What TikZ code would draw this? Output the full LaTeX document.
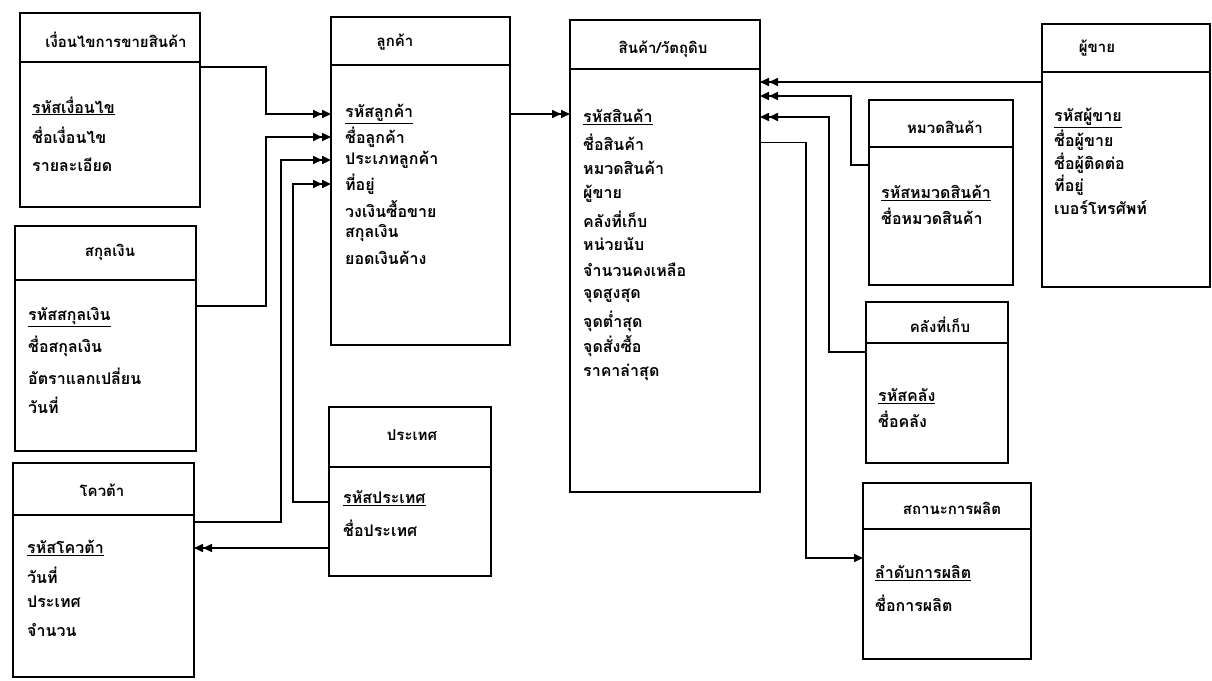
\documentclass[tikz,border=0pt]{standalone}
\usepackage{fontspec}
\newfontfamily\thai[Script=Thai]{Loma}
\usetikzlibrary{arrows.meta}

\begin{document}
\begin{tikzpicture}[x=1pt,y=-1pt,
  box/.style={draw, line width=1.6pt, anchor=north west, inner sep=0pt, outer sep=0pt},
  rule/.style={line width=1.6pt},
  ttl/.style={font=\thai\bfseries\fontsize{15}{17}\selectfont, inner sep=0pt},
  attr/.style={font=\thai\bfseries\fontsize{16}{18}\selectfont, anchor=west, inner sep=0pt},
  link/.style={line width=1.6pt},
  dbl/.style={link, -{Triangle[length=9pt,width=8pt]Triangle[length=9pt,width=8pt]}},
  sgl/.style={link, -{Triangle[length=9pt,width=8pt]}},
]
\useasboundingbox (0,0) rectangle (1212,680);

% ---------- เงื่อนไขการขายสินค้า ----------
\node[box, minimum width=180pt, minimum height=194pt] (cond) at (20,13) {};
\draw[rule] (cond.west |- 0,62) -- (cond.east |- 0,62);
\node[ttl] (condT) at (116,40) {เงื่อนไขการขายสินค้า};
\node[attr] (condA1) at (32,106) {\underline{รหัสเงื่อนไข}};
\node[attr] (condA2) at (32,135) {ชื่อเงื่อนไข};
\node[attr] (condA3) at (32,165) {รายละเอียด};

% ---------- สกุลเงิน ----------
\node[box, minimum width=181pt, minimum height=225pt] (curr) at (15,226) {};
\draw[rule] (curr.west |- 0,280) -- (curr.east |- 0,280);
\node[ttl] (currT) at (110,252) {สกุลเงิน};
\node[attr] (currA1) at (28,317) {\underline{รหัสสกุลเงิน}};
\node[attr] (currA2) at (28,346) {ชื่อสกุลเงิน};
\node[attr] (currA3) at (28,376) {อัตราแลกเปลี่ยน};
\node[attr] (currA4) at (28,405) {วันที่};

% ---------- โควต้า ----------
\node[box, minimum width=181pt, minimum height=214pt] (quota) at (13,463) {};
\draw[rule] (quota.west |- 0,515) -- (quota.east |- 0,515);
\node[ttl] (quotaT) at (102,490) {โควต้า};
\node[attr] (quotaA1) at (27,548) {\underline{รหัสโควต้า}};
\node[attr] (quotaA2) at (27,575) {วันที่};
\node[attr] (quotaA3) at (27,602) {ประเทศ};
\node[attr] (quotaA4) at (27,630) {จำนวน};

% ---------- ลูกค้า ----------
\node[box, minimum width=179pt, minimum height=328pt] (cust) at (331,17) {};
\draw[rule] (cust.west |- 0,65) -- (cust.east |- 0,65);
\node[ttl] (custT) at (395,42) {ลูกค้า};
\node[attr] (custA1) at (345,114) {\underline{รหัสลูกค้า}};
\node[attr] (custA2) at (345,137) {ชื่อลูกค้า};
\node[attr] (custA3) at (345,160) {ประเภทลูกค้า};
\node[attr] (custA4) at (345,184) {ที่อยู่};
\node[attr] (custA5) at (345,209) {วงเงินซื้อขาย};
\node[attr] (custA6) at (345,233) {สกุลเงิน};
\node[attr] (custA7) at (345,258) {ยอดเงินค้าง};

% ---------- ประเทศ ----------
\node[box, minimum width=162pt, minimum height=169pt] (country) at (329,407) {};
\draw[rule] (country.west |- 0,467) -- (country.east |- 0,467);
\node[ttl] (countryT) at (412,435) {ประเทศ};
\node[attr] (countryA1) at (343,498) {\underline{รหัสประเทศ}};
\node[attr] (countryA2) at (343,528) {ชื่อประเทศ};

% ---------- สินค้า/วัตถุดิบ ----------
\node[box, minimum width=190pt, minimum height=472pt] (prod) at (570,20) {};
\draw[rule] (prod.west |- 0,69) -- (prod.east |- 0,69);
\node[ttl] (prodT) at (663,49) {สินค้า/วัตถุดิบ};
\node[attr] (prodA1) at (583,117) {\underline{รหัสสินค้า}};
\node[attr] (prodA2) at (583,142.5) {ชื่อสินค้า};
\node[attr] (prodA3) at (583,168) {หมวดสินค้า};
\node[attr] (prodA4) at (583,193.5) {ผู้ขาย};
\node[attr] (prodA5) at (583,219) {คลังที่เก็บ};
\node[attr] (prodA6) at (583,244.5) {หน่วยนับ};
\node[attr] (prodA7) at (583,270) {จำนวนคงเหลือ};
\node[attr] (prodA8) at (583,295.5) {จุดสูงสุด};
\node[attr] (prodA9) at (583,321) {จุดต่ำสุด};
\node[attr] (prodA10) at (583,346.5) {จุดสั่งซื้อ};
\node[attr] (prodA11) at (583,372) {ราคาล่าสุด};

% ---------- หมวดสินค้า ----------
\node[box, minimum width=144pt, minimum height=185pt] (cat) at (869,100) {};
\draw[rule] (cat.west |- 0,147) -- (cat.east |- 0,147);
\node[ttl] (catT) at (945,127) {หมวดสินค้า};
\node[attr] (catA1) at (881,193) {\underline{รหัสหมวดสินค้า}};
\node[attr] (catA2) at (881,216) {ชื่อหมวดสินค้า};

% ---------- ผู้ขาย ----------
\node[box, minimum width=168pt, minimum height=263pt] (vendor) at (1042,24) {};
\draw[rule] (vendor.west |- 0,72) -- (vendor.east |- 0,72);
\node[ttl] (vendorT) at (1097,48) {ผู้ขาย};
\node[attr] (vendorA1) at (1054,118) {\underline{รหัสผู้ขาย}};
\node[attr] (vendorA2) at (1054,140) {ชื่อผู้ขาย};
\node[attr] (vendorA3) at (1054,163) {ชื่อผู้ติดต่อ};
\node[attr] (vendorA4) at (1054,185) {ที่อยู่};
\node[attr] (vendorA5) at (1054,208) {เบอร์โทรศัพท์};

% ---------- คลังที่เก็บ ----------
\node[box, minimum width=142pt, minimum height=161pt] (store) at (866,302) {};
\draw[rule] (store.west |- 0,343) -- (store.east |- 0,343);
\node[ttl] (storeT) at (940,325) {คลังที่เก็บ};
\node[attr] (storeA1) at (878,396) {\underline{รหัสคลัง}};
\node[attr] (storeA2) at (878,419) {ชื่อคลัง};

% ---------- สถานะการผลิต ----------
\node[box, minimum width=168pt, minimum height=176pt] (status) at (863,483) {};
\draw[rule] (status.west |- 0,529) -- (status.east |- 0,529);
\node[ttl] (statusT) at (952,508) {สถานะการผลิต};
\node[attr] (statusA1) at (875,573) {\underline{ลำดับการผลิต}};
\node[attr] (statusA2) at (875,603) {ชื่อการผลิต};

% ---------- bus lines on the left of ลูกค้า ----------
\coordinate (busA) at (266,0);
\coordinate (busB) at (281,0);
\coordinate (busC) at (293,0);
% ---------- bus lines on the right of สินค้า ----------
\coordinate (busF) at (806,0);
\coordinate (busE) at (829,0);
\coordinate (busD) at (851,0);

% connectors into ลูกค้า
\draw[dbl] (cond.east |- 0,67) -| (busA |- custA1) -- (cust.west |- custA1);
\draw[dbl] (curr.east |- 0,306) -| (busA |- custA2) -- (cust.west |- custA2);
\draw[dbl] (quota.east |- 0,522) -| (busB |- custA3) -- (cust.west |- custA3);
\draw[dbl] (country.west |- 0,502) -| (busC |- custA4) -- (cust.west |- custA4);
% ประเทศ to โควต้า
\draw[dbl] (country.west |- quotaA1) -- (quota.east |- quotaA1);
% ลูกค้า to สินค้า
\draw[dbl] (cust.east |- custA1) -- (prod.west |- custA1);
% connectors into สินค้า
\draw[dbl] (vendor.west |- 0,82) -- (prod.east |- 0,82);
\draw[dbl] (cat.west |- 0,165) -| (busD |- 0,96) -- (prod.east |- 0,96);
\draw[dbl] (store.west |- 0,352) -| (busE |- prodA1) -- (prod.east |- prodA1);
% สินค้า to สถานะการผลิต
\draw[sgl] (prod.east |- prodA2) -| (busF |- 0,558) -- (status.west |- 0,558);
\end{tikzpicture}
\end{document}
